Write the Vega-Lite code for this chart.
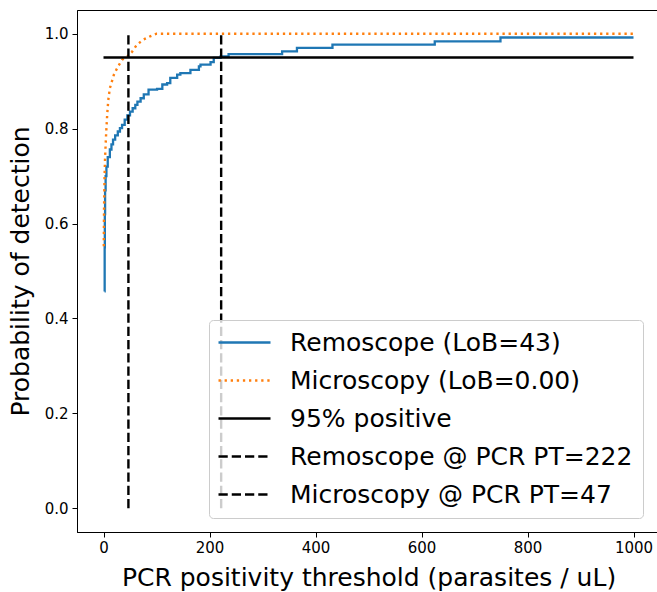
{
  "$schema": "https://vega.github.io/schema/vega-lite/v6.json",
  "autosize": {"type": "none"},
  "padding": {"left": 77, "top": 10, "right": 0, "bottom": 60},
  "width": 583,
  "height": 522,
  "background": "white",
  "config": {
    "view": {"stroke": "black", "strokeWidth": 1},
    "font": "DejaVu Sans",
    "axis": {
      "grid": false,
      "domainColor": "black",
      "domainWidth": 1,
      "tickColor": "black",
      "tickWidth": 1,
      "tickSize": 5,
      "labelColor": "black",
      "titleColor": "black",
      "labelFont": "DejaVu Sans",
      "titleFont": "DejaVu Sans",
      "labelFontSize": 15,
      "titleFontSize": 25,
      "titleFontWeight": "normal"
    },
    "legend": {
      "labelFont": "DejaVu Sans",
      "labelFontSize": 25,
      "labelColor": "black",
      "labelLimit": 0
    }
  },
  "data": {
    "values": [
      {"series": "Remoscope (LoB=43)", "x": 2, "y": 0.457},
      {"series": "Remoscope (LoB=43)", "x": 2.2, "y": 0.55},
      {"series": "Remoscope (LoB=43)", "x": 2.5, "y": 0.62},
      {"series": "Remoscope (LoB=43)", "x": 3, "y": 0.67},
      {"series": "Remoscope (LoB=43)", "x": 4, "y": 0.70},
      {"series": "Remoscope (LoB=43)", "x": 5.5, "y": 0.72},
      {"series": "Remoscope (LoB=43)", "x": 8, "y": 0.74},
      {"series": "Remoscope (LoB=43)", "x": 12, "y": 0.756},
      {"series": "Remoscope (LoB=43)", "x": 15, "y": 0.767},
      {"series": "Remoscope (LoB=43)", "x": 18, "y": 0.777},
      {"series": "Remoscope (LoB=43)", "x": 22, "y": 0.786},
      {"series": "Remoscope (LoB=43)", "x": 27, "y": 0.794},
      {"series": "Remoscope (LoB=43)", "x": 31, "y": 0.801},
      {"series": "Remoscope (LoB=43)", "x": 35, "y": 0.808},
      {"series": "Remoscope (LoB=43)", "x": 40, "y": 0.819},
      {"series": "Remoscope (LoB=43)", "x": 45, "y": 0.828},
      {"series": "Remoscope (LoB=43)", "x": 50, "y": 0.836},
      {"series": "Remoscope (LoB=43)", "x": 55, "y": 0.843},
      {"series": "Remoscope (LoB=43)", "x": 60, "y": 0.85},
      {"series": "Remoscope (LoB=43)", "x": 64, "y": 0.857},
      {"series": "Remoscope (LoB=43)", "x": 70, "y": 0.864},
      {"series": "Remoscope (LoB=43)", "x": 76, "y": 0.872},
      {"series": "Remoscope (LoB=43)", "x": 85, "y": 0.882},
      {"series": "Remoscope (LoB=43)", "x": 101, "y": 0.884},
      {"series": "Remoscope (LoB=43)", "x": 111, "y": 0.893},
      {"series": "Remoscope (LoB=43)", "x": 120, "y": 0.896},
      {"series": "Remoscope (LoB=43)", "x": 126, "y": 0.907},
      {"series": "Remoscope (LoB=43)", "x": 139, "y": 0.914},
      {"series": "Remoscope (LoB=43)", "x": 145, "y": 0.917},
      {"series": "Remoscope (LoB=43)", "x": 164, "y": 0.924},
      {"series": "Remoscope (LoB=43)", "x": 180, "y": 0.931},
      {"series": "Remoscope (LoB=43)", "x": 183, "y": 0.935},
      {"series": "Remoscope (LoB=43)", "x": 202, "y": 0.94},
      {"series": "Remoscope (LoB=43)", "x": 208, "y": 0.949},
      {"series": "Remoscope (LoB=43)", "x": 221, "y": 0.952},
      {"series": "Remoscope (LoB=43)", "x": 236, "y": 0.957},
      {"series": "Remoscope (LoB=43)", "x": 337, "y": 0.963},
      {"series": "Remoscope (LoB=43)", "x": 365, "y": 0.97},
      {"series": "Remoscope (LoB=43)", "x": 432, "y": 0.977},
      {"series": "Remoscope (LoB=43)", "x": 625, "y": 0.984},
      {"series": "Remoscope (LoB=43)", "x": 749, "y": 0.992},
      {"series": "Remoscope (LoB=43)", "x": 1000, "y": 0.992},
      {"series": "Microscopy (LoB=0.00)", "x": 0.5, "y": 0.552},
      {"series": "Microscopy (LoB=0.00)", "x": 1, "y": 0.63},
      {"series": "Microscopy (LoB=0.00)", "x": 2, "y": 0.70},
      {"series": "Microscopy (LoB=0.00)", "x": 3, "y": 0.74},
      {"series": "Microscopy (LoB=0.00)", "x": 5, "y": 0.79},
      {"series": "Microscopy (LoB=0.00)", "x": 7, "y": 0.83},
      {"series": "Microscopy (LoB=0.00)", "x": 9, "y": 0.86},
      {"series": "Microscopy (LoB=0.00)", "x": 12, "y": 0.885},
      {"series": "Microscopy (LoB=0.00)", "x": 16, "y": 0.90},
      {"series": "Microscopy (LoB=0.00)", "x": 20, "y": 0.915},
      {"series": "Microscopy (LoB=0.00)", "x": 27, "y": 0.93},
      {"series": "Microscopy (LoB=0.00)", "x": 35, "y": 0.945},
      {"series": "Microscopy (LoB=0.00)", "x": 45, "y": 0.952},
      {"series": "Microscopy (LoB=0.00)", "x": 54, "y": 0.962},
      {"series": "Microscopy (LoB=0.00)", "x": 63, "y": 0.977},
      {"series": "Microscopy (LoB=0.00)", "x": 76, "y": 0.988},
      {"series": "Microscopy (LoB=0.00)", "x": 89, "y": 0.995},
      {"series": "Microscopy (LoB=0.00)", "x": 100, "y": 1.0},
      {"series": "Microscopy (LoB=0.00)", "x": 1000, "y": 1.0},
      {"series": "95% positive", "x": 0, "y": 0.95},
      {"series": "95% positive", "x": 1000, "y": 0.95},
      {"series": "Remoscope @ PCR PT=222", "x": 222, "y": 0},
      {"series": "Remoscope @ PCR PT=222", "x": 222, "y": 1},
      {"series": "Microscopy @ PCR PT=47", "x": 47, "y": 0},
      {"series": "Microscopy @ PCR PT=47", "x": 47, "y": 1}
    ]
  },
  "encoding": {
    "x": {
      "field": "x",
      "type": "quantitative",
      "scale": {"domain": [-50, 1050], "nice": false, "zero": false},
      "axis": {"values": [0, 200, 400, 600, 800, 1000], "format": "d", "title": "PCR positivity threshold (parasites / uL)", "labelPadding": 3, "titlePadding": 10}
    },
    "y": {
      "field": "y",
      "type": "quantitative",
      "scale": {"domain": [-0.05, 1.05], "nice": false, "zero": false},
      "axis": {"values": [0, 0.2, 0.4, 0.6, 0.8, 1.0], "format": ".1f", "title": "Probability of detection", "labelPadding": 4, "titlePadding": 11}
    },
    "color": {
      "field": "series",
      "type": "nominal",
      "scale": {
        "domain": ["Remoscope (LoB=43)", "Microscopy (LoB=0.00)", "95% positive", "Remoscope @ PCR PT=222", "Microscopy @ PCR PT=47"],
        "range": ["#1f77b4", "#ff7f0e", "#000000", "#000000", "#000000"]
      },
      "legend": {
        "title": null,
        "orient": "none",
        "legendX": 132,
        "legendY": 310,
        "symbolType": "M-2,0H6",
        "symbolSize": 169,
        "symbolStrokeWidth": 2.3,
        "labelOffset": 46,
        "padding": 10,
        "rowPadding": 12,
        "fillColor": "rgba(255,255,255,0.8)",
        "strokeColor": "#cccccc",
        "cornerRadius": 4
      }
    },
    "strokeDash": {
      "field": "series",
      "type": "nominal",
      "scale": {
        "domain": ["Remoscope (LoB=43)", "Microscopy (LoB=0.00)", "95% positive", "Remoscope @ PCR PT=222", "Microscopy @ PCR PT=47"],
        "range": [[1, 0], [2.3, 3.8], [1, 0], [9.25, 4], [9.25, 4]]
      },
      "legend": {
        "title": null,
        "orient": "none",
        "legendX": 132,
        "legendY": 310,
        "symbolType": "M-2,0H6",
        "symbolSize": 169,
        "symbolStrokeWidth": 2.3,
        "labelOffset": 46,
        "padding": 10,
        "rowPadding": 12,
        "fillColor": "rgba(255,255,255,0.8)",
        "strokeColor": "#cccccc",
        "cornerRadius": 4
      }
    }
  },
  "layer": [
    {
      "transform": [{"filter": "datum.series === 'Remoscope (LoB=43)'"}],
      "mark": {"type": "line", "interpolate": "step-after", "strokeWidth": 2.3, "clip": true}
    },
    {
      "transform": [{"filter": "datum.series !== 'Remoscope (LoB=43)'"}],
      "mark": {"type": "line", "strokeWidth": 2.4, "clip": true}
    }
  ]
}
